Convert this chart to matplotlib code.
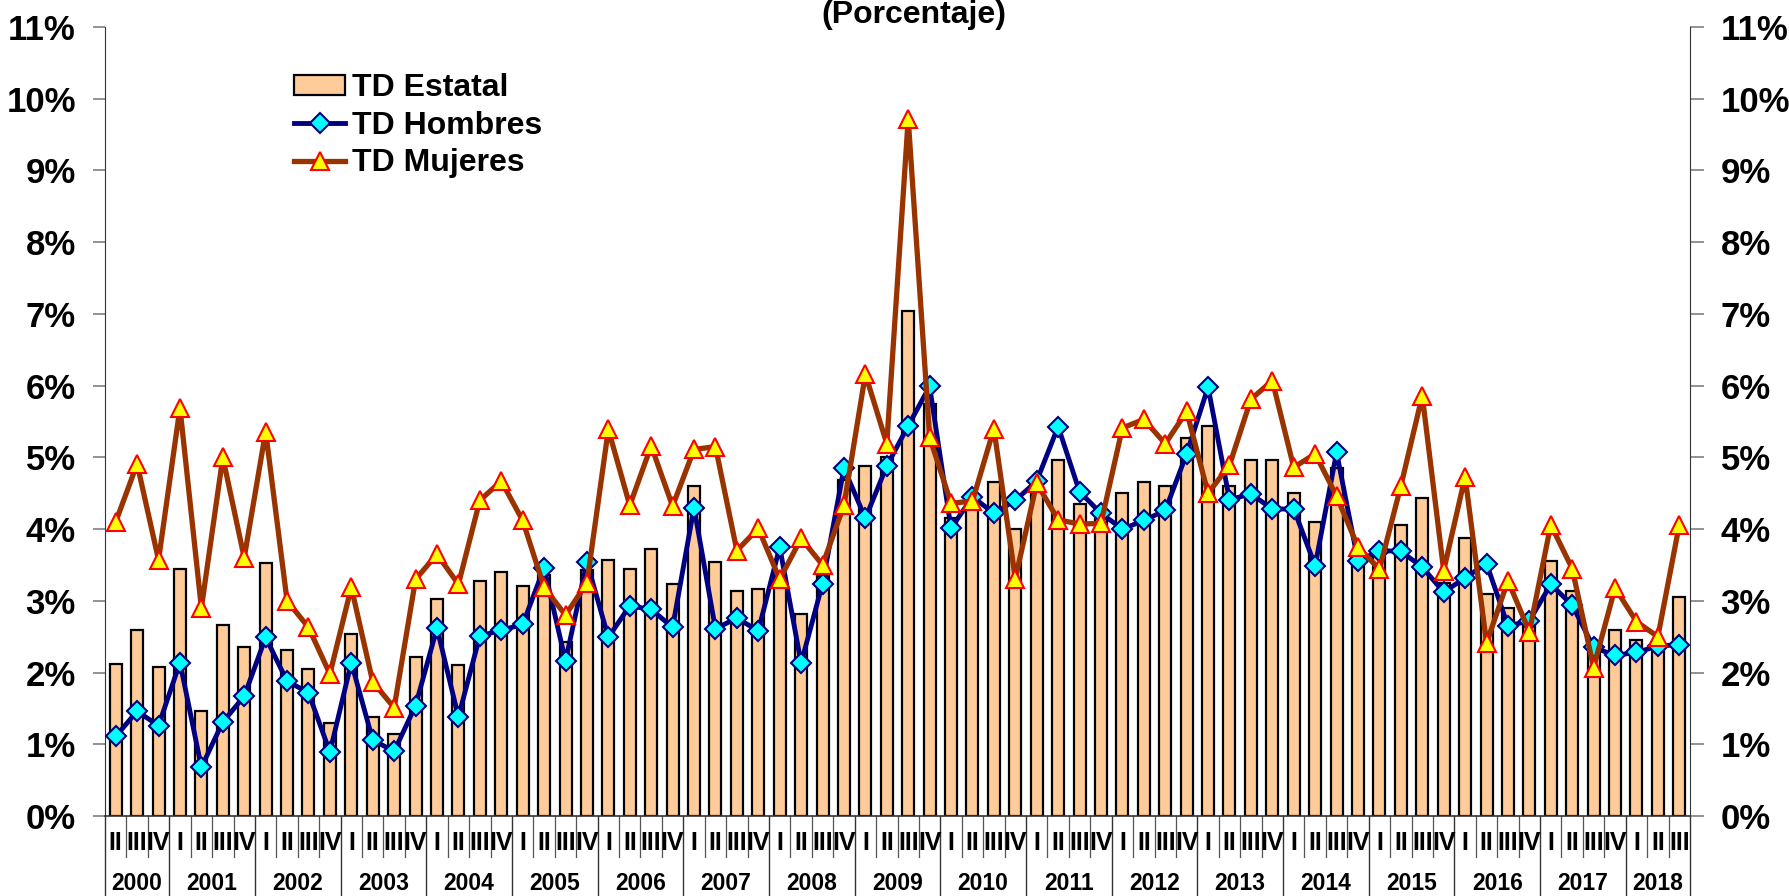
# =========================================================
# Tasa de desocupacion trimestral (TD Estatal / Hombres / Mujeres)
# 2000-II a 2018-III
# =========================================================

import matplotlib
matplotlib.use("Agg")
import matplotlib.pyplot as plt
import matplotlib.transforms as mtransforms


# ---------------------------------------------------------
# DATA (percent)
# ---------------------------------------------------------

years = ["2000", "2001", "2002", "2003", "2004", "2005", "2006", "2007", "2008", "2009",
         "2010", "2011", "2012", "2013", "2014", "2015", "2016", "2017", "2018"]

quarters_per_year = [3, 4, 4, 4, 4, 4, 4, 4, 4, 4, 4, 4, 4, 4, 4, 4, 4, 4, 3]

quarter_labels = (["II", "III", "IV"]
                  + ["I", "II", "III", "IV"] * 17
                  + ["I", "II", "III"])

td_estatal = [2.12, 2.60, 2.08,
              3.45, 1.46, 2.66, 2.35,
              3.53, 2.31, 2.05, 1.29,
              2.54, 1.38, 1.14, 2.22,
              3.03, 2.11, 3.27, 3.40,
              3.21, 3.36, 2.42, 3.43,
              3.57, 3.45, 3.72, 3.24,
              4.60, 3.54, 3.14, 3.16,
              3.35, 2.81, 3.35, 4.68,
              4.88, 5.01, 7.04, 5.75,
              4.16, 4.47, 4.65, 4.00,
              4.65, 4.96, 4.35, 4.22,
              4.51, 4.65, 4.60, 5.27,
              5.44, 4.60, 4.97, 4.97,
              4.50, 4.10, 4.85, 3.62,
              3.65, 4.06, 4.43, 3.25,
              3.87, 3.10, 2.90, 2.75,
              3.55, 3.14, 2.27, 2.60,
              2.45, 2.40, 3.06]

td_hombres = [1.11, 1.46, 1.26,
              2.14, 0.68, 1.31, 1.67,
              2.49, 1.88, 1.72, 0.89,
              2.14, 1.06, 0.90, 1.54,
              2.62, 1.38, 2.51, 2.59,
              2.67, 3.46, 2.16, 3.54,
              2.49, 2.93, 2.88, 2.63,
              4.30, 2.61, 2.76, 2.58,
              3.75, 2.13, 3.24, 4.85,
              4.15, 4.88, 5.44, 5.99,
              4.01, 4.45, 4.22, 4.40,
              4.67, 5.43, 4.52, 4.22,
              4.00, 4.12, 4.26, 5.05,
              5.98, 4.41, 4.49, 4.28,
              4.28, 3.49, 5.07, 3.55,
              3.70, 3.69, 3.47, 3.12,
              3.32, 3.52, 2.65, 2.72,
              3.23, 2.94, 2.35, 2.24,
              2.28, 2.37, 2.39]

td_mujeres = [4.10, 4.91, 3.57,
              5.69, 2.90, 5.00, 3.60,
              5.36, 3.00, 2.63, 1.98,
              3.19, 1.87, 1.51, 3.30,
              3.65, 3.23, 4.40, 4.67,
              4.12, 3.19, 2.80, 3.25,
              5.39, 4.33, 5.16, 4.32,
              5.11, 5.15, 3.70, 4.01,
              3.30, 3.87, 3.50, 4.33,
              6.16, 5.19, 9.72, 5.28,
              4.36, 4.39, 5.40, 3.31,
              4.64, 4.13, 4.07, 4.08,
              5.41, 5.53, 5.19, 5.64,
              4.50, 4.89, 5.81, 6.07,
              4.86, 5.05, 4.46, 3.75,
              3.44, 4.60, 5.86, 3.42,
              4.73, 2.41, 3.28, 2.57,
              4.06, 3.45, 2.07, 3.18,
              2.71, 2.50, 4.06]

y_ticks = [0, 1, 2, 3, 4, 5, 6, 7, 8, 9, 10, 11]
y_tick_labels = ["0%", "1%", "2%", "3%", "4%", "5%", "6%",
                 "7%", "8%", "9%", "10%", "11%"]


# ---------------------------------------------------------
# FIGURE
# ---------------------------------------------------------

plt.rcParams["font.family"] = ["Liberation Sans", "DejaVu Sans"]
plt.rcParams["font.weight"] = "bold"

W, H = 1789, 896
fig = plt.figure(figsize=(W / 100, H / 100), dpi=100)
ax = fig.add_axes([105 / W, 80 / H, 1585 / W, 789 / H])

x = list(range(len(td_estatal)))

bars = ax.bar(x, td_estatal, width=0.56, color="#FFCC99",
              edgecolor="black", linewidth=1.6, label="TD Estatal", zorder=2)

line_h, = ax.plot(x, td_hombres, color="#000080", linewidth=3.5, marker="D",
                  markersize=10, markerfacecolor="#00FFFF", markeredgecolor="#000080",
                  markeredgewidth=1.5, label="TD Hombres", zorder=3)

line_m, = ax.plot(x, td_mujeres, color="#993300", linewidth=3.8, marker="^",
                  markersize=12.5, markerfacecolor="#FFFF00", markeredgecolor="#FF0000",
                  markeredgewidth=1.5, label="TD Mujeres", zorder=4)

ax.set_xlim(-0.5, len(x) - 0.5)
ax.set_ylim(0, 11)

# left axis
ax.set_yticks(y_ticks)
ax.set_yticklabels(y_tick_labels, fontsize=25, fontweight="bold")
ax.tick_params(axis="y", direction="out", length=9, width=1.2,
               color="#808080", pad=12)
ax.set_xticks([])

for side in ["top", "right"]:
    ax.spines[side].set_visible(False)
ax.spines["left"].set_color("#333333")
ax.spines["bottom"].set_color("#333333")
ax.spines["bottom"].set_linewidth(1.2)

# right axis (same scale)
ax2 = ax.twinx()
ax2.set_ylim(0, 11)
ax2.set_yticks(y_ticks)
ax2.set_yticklabels(y_tick_labels, fontsize=25, fontweight="bold")
ax2.tick_params(axis="y", direction="out", length=10, width=1.2,
                color="#808080", pad=12)
for side in ["top", "left", "bottom"]:
    ax2.spines[side].set_visible(False)
ax2.spines["right"].set_color("#333333")


# ---------------------------------------------------------
# CATEGORY AXIS (quarters + years with separators)
# ---------------------------------------------------------

trans = mtransforms.blended_transform_factory(ax.transData, ax.transAxes)

q_sep_bottom = -0.052
y_sep_bottom = -0.102

for i, lab in enumerate(quarter_labels):
    ax.text(i, -0.034, lab, transform=trans, ha="center", va="center",
            fontsize=18, fontweight="bold", clip_on=False)

year_edges = [-0.5]
for n in quarters_per_year:
    year_edges.append(year_edges[-1] + n)

for i in range(1, len(x)):
    edge = i - 0.5
    if edge not in year_edges:
        ax.plot([edge, edge], [0, q_sep_bottom], transform=trans,
                color="#555555", linewidth=0.9, clip_on=False)

for edge in year_edges:
    ax.plot([edge, edge], [0, y_sep_bottom], transform=trans,
            color="#333333", linewidth=1.0, clip_on=False)

for k, yr in enumerate(years):
    mid = (year_edges[k] + year_edges[k + 1]) / 2
    ax.text(mid, -0.086, yr, transform=trans, ha="center", va="center",
            fontsize=16.5, fontweight="bold", clip_on=False)


# ---------------------------------------------------------
# LEGEND + TITLE
# ---------------------------------------------------------

ax.legend(handles=[bars, line_h, line_m],
          loc="upper left", bbox_to_anchor=(294 / W, 1 - 73 / H),
          bbox_transform=fig.transFigure, frameon=False,
          prop={"size": 23, "weight": "bold"}, borderpad=0, borderaxespad=0,
          handlelength=1.6, handleheight=0.6, handletextpad=0.2,
          labelspacing=0.24)

fig.text(914 / W, 1 - 23 / H, "(Porcentaje)", ha="center", va="baseline",
         fontsize=23, fontweight="bold")

fig.savefig("out.png", dpi=100)
